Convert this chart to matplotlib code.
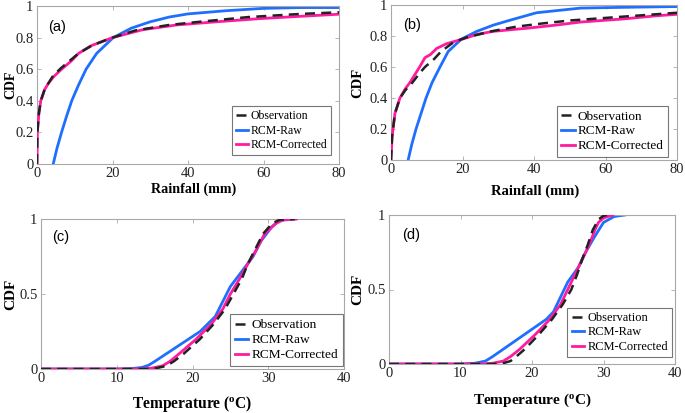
import matplotlib
matplotlib.use("Agg")
import matplotlib.pyplot as plt

# ---------------- data ----------------
series_names = ["Observation", "RCM-Raw", "RCM-Corrected"]

# Panel (a) rainfall
a_obs_x = [0, 0.1, 0.5, 1, 2, 3, 4.3, 6.5, 9, 11, 14.5, 20, 26, 35, 43, 56, 70, 80]
a_obs_y = [0, 0.2, 0.32, 0.4, 0.47, 0.51, 0.56, 0.61, 0.66, 0.7, 0.75, 0.8, 0.845, 0.88, 0.9, 0.93, 0.95, 0.96]
a_raw_x = [4.3, 5.3, 6.5, 7.8, 9.2, 11, 13, 15.8, 20.2, 25, 30, 35, 40, 50, 60, 70, 80]
a_raw_y = [0, 0.1, 0.2, 0.3, 0.4, 0.5, 0.6, 0.7, 0.8, 0.86, 0.9, 0.93, 0.95, 0.97, 0.985, 0.99, 0.99]
a_cor_x = [0, 0.1, 0.5, 1, 2, 3, 4.3, 6.5, 9, 11, 14.5, 20, 28, 37, 47.5, 59, 70, 80]
a_cor_y = [0, 0.2, 0.32, 0.4, 0.47, 0.51, 0.55, 0.6, 0.65, 0.7, 0.75, 0.8, 0.85, 0.88, 0.9, 0.92, 0.935, 0.948]

# Panel (b) rainfall
b_obs_x = [0, 0.3, 1.1, 2.5, 4, 6, 8, 9.5, 12, 14, 17.5, 21, 28, 35, 42, 50, 62, 80]
b_obs_y = [0, 0.15, 0.3, 0.4, 0.45, 0.5, 0.56, 0.6, 0.65, 0.7, 0.76, 0.79, 0.83, 0.86, 0.88, 0.9, 0.92, 0.95]
b_raw_x = [4.8, 5.8, 7, 8.4, 9.8, 11.5, 13.7, 16, 19.7, 24, 28.6, 33, 40.7, 53, 65, 80]
b_raw_y = [0, 0.1, 0.2, 0.3, 0.4, 0.5, 0.6, 0.7, 0.78, 0.83, 0.87, 0.9, 0.95, 0.98, 0.985, 0.99]
b_cor_x = [0, 0.3, 1.1, 2.5, 4, 5.3, 8, 9.5, 11, 12.8, 15.5, 20, 24, 28.6, 38, 46, 53, 65, 74, 80]
b_cor_y = [0, 0.15, 0.3, 0.4, 0.46, 0.5, 0.6, 0.66, 0.68, 0.72, 0.75, 0.78, 0.81, 0.83, 0.85, 0.87, 0.89, 0.91, 0.93, 0.94]

# Panel (c) temperature
c_obs_x = [0, 14, 15, 16.5, 17.5, 18.8, 21, 22.8, 24.3, 25.4, 26.5, 27.3, 28.3, 29.3, 30.5, 31.5, 33.5]
c_obs_y = [0, 0, 0.003, 0.02, 0.05, 0.1, 0.2, 0.3, 0.4, 0.5, 0.6, 0.7, 0.8, 0.9, 0.97, 0.995, 1]
c_raw_x = [0, 10, 12, 13.3, 14.2, 15, 16.5, 18, 19.5, 21, 22, 23, 24, 25, 26.5, 28, 29, 30.5, 31.5, 33.5]
c_raw_y = [0, 0, 0.003, 0.01, 0.025, 0.05, 0.1, 0.15, 0.2, 0.25, 0.3, 0.35, 0.45, 0.55, 0.65, 0.75, 0.85, 0.95, 0.99, 1]
c_cor_x = [0, 13, 14.5, 16, 17, 18.2, 20.5, 22.5, 24, 25, 26.2, 27.3, 28.5, 29.5, 31, 32, 33.7]
c_cor_y = [0, 0, 0.005, 0.02, 0.05, 0.1, 0.2, 0.3, 0.4, 0.5, 0.6, 0.7, 0.8, 0.9, 0.97, 0.995, 1]

# Panel (d) temperature
d_obs_x = [0, 14.5, 15.8, 17, 17.8, 19, 21, 22.8, 24.3, 25.5, 26.3, 27, 27.8, 28.5, 29.3, 30, 30.5]
d_obs_y = [0, 0, 0.003, 0.02, 0.05, 0.1, 0.2, 0.3, 0.4, 0.5, 0.6, 0.7, 0.8, 0.9, 0.97, 0.995, 1]
d_raw_x = [0, 10, 12, 13.5, 14.5, 16, 17.5, 19, 20.5, 22, 23, 24, 25, 26.5, 27.5, 28.7, 30, 31.5, 33]
d_raw_y = [0, 0, 0.005, 0.02, 0.05, 0.1, 0.15, 0.2, 0.25, 0.3, 0.35, 0.45, 0.55, 0.65, 0.75, 0.85, 0.95, 0.99, 1]
d_cor_x = [0, 13, 14.5, 16, 17, 18.3, 20.5, 22.5, 24, 25, 26, 27, 28, 28.8, 29.3, 30, 31.3]
d_cor_y = [0, 0, 0.005, 0.02, 0.05, 0.1, 0.2, 0.3, 0.4, 0.5, 0.6, 0.7, 0.8, 0.9, 0.95, 0.98, 1]

rain_xticks = [0, 20, 40, 60, 80]
rain_yticks = [0, 0.2, 0.4, 0.6, 0.8, 1]
rain_yticklabels = ["0", "0.2", "0.4", "0.6", "0.8", "1"]
temp_xticks = [0, 10, 20, 30, 40]
temp_yticks = [0, 0.5, 1]
temp_yticklabels = ["0", "0.5", "1"]
panel_labels = ["(a)", "(b)", "(c)", "(d)"]

# ---------------- style ----------------
plt.rcParams["font.family"] = ["Liberation Serif", "DejaVu Serif"]
plt.rcParams["mathtext.fontset"] = "custom"
plt.rcParams["mathtext.rm"] = "Liberation Serif"
plt.rcParams["mathtext.bf"] = "Liberation Serif:bold"

OBS_C = "#222222"
RAW_C = "#1f6fff"
COR_C = "#ff1aa0"
SPINE_C = "#a8a8a8"

fig = plt.figure(figsize=(6.85, 4.13), dpi=100)

axes_pos = [
    [37 / 685, 1 - 164 / 413, 302 / 685, 158 / 413],
    [391 / 685, 1 - 160 / 413, 286 / 685, 155 / 413],
    [41 / 685, 1 - 369 / 413, 303 / 685, 150 / 413],
    [389 / 685, 1 - 364 / 413, 286 / 685, 149 / 413],
]
panels = [
    (a_obs_x, a_obs_y, a_raw_x, a_raw_y, a_cor_x, a_cor_y),
    (b_obs_x, b_obs_y, b_raw_x, b_raw_y, b_cor_x, b_cor_y),
    (c_obs_x, c_obs_y, c_raw_x, c_raw_y, c_cor_x, c_cor_y),
    (d_obs_x, d_obs_y, d_raw_x, d_raw_y, d_cor_x, d_cor_y),
]
legend_anchor = [(0.975, 0.055), (0.97, 0.02), (0.997, 0.02), (0.99, 0.045)]
legend_fs = [8.5, 9.5, 9.6, 8.9]
label_pos = [(0.036, 0.87), (0.042, 0.87), (0.036, 0.88), (0.045, 0.866)]
ylabel_x = [-0.066, -0.095, -0.08, -0.088]
ylabel_fs = [10, 10.5, 11, 11]
xlabel_pos = [(0.517, -0.115), (0.503, -0.155), (0.5, -0.165), (0.5, -0.185)]
xlabel_fs = [10.2, 10.5, 11.2, 11]

for i, (pos, data) in enumerate(zip(axes_pos, panels)):
    ax = fig.add_axes(pos)
    ox, oy, rx, ry, cx, cy = data
    ax.plot(rx, ry, color=RAW_C, lw=2.0, label=series_names[1], zorder=2)
    ax.plot(cx, cy, color=COR_C, lw=2.0, label=series_names[2], zorder=3)
    ax.plot(ox, oy, color=OBS_C, lw=1.8, ls=(0, (4, 2.5)), label=series_names[0], zorder=4)

    if i < 2:
        ax.set_xlim(0, 80)
        ax.set_xticks(rain_xticks)
        ax.set_yticks(rain_yticks)
        ax.set_yticklabels(rain_yticklabels)
        ax.set_xlabel("Rainfall (mm)", fontsize=xlabel_fs[i], fontweight="bold")
    else:
        ax.set_xlim(0, 40)
        ax.set_xticks(temp_xticks)
        ax.set_yticks(temp_yticks)
        ax.set_yticklabels(temp_yticklabels)
        ax.set_xlabel(r"Temperature ($\mathbf{^{o}}$C)", fontsize=xlabel_fs[i], fontweight="bold")
    ax.set_ylim(0, 1)
    ax.set_ylabel("CDF", fontsize=ylabel_fs[i], fontweight="bold")
    ax.yaxis.set_label_coords(ylabel_x[i], 0.5)
    ax.xaxis.set_label_coords(*xlabel_pos[i])

    for s in ax.spines.values():
        s.set_color(SPINE_C)
        s.set_linewidth(0.8)
    ax.tick_params(direction="in", length=3, width=0.6, color=SPINE_C,
                   top=True, right=True, labelsize=10.5, labelcolor="#222222", pad=2.5)

    handles, labels = ax.get_legend_handles_labels()
    order = [2, 0, 1]
    leg = ax.legend([handles[k] for k in order], [labels[k] for k in order],
                    loc="lower right", bbox_to_anchor=legend_anchor[i],
                    fontsize=legend_fs[i], frameon=True, fancybox=False, handlelength=1.0,
                    handletextpad=0.25, borderpad=0.35, labelspacing=0.2,
                    borderaxespad=0)
    leg.get_frame().set_edgecolor("#555555")
    leg.get_frame().set_linewidth(0.8)

    ax.text(label_pos[i][0], label_pos[i][1], panel_labels[i], transform=ax.transAxes,
            fontsize=10.5, family=["Liberation Sans", "DejaVu Sans"], va="center", ha="left")

fig.savefig("out.png", dpi=100)
